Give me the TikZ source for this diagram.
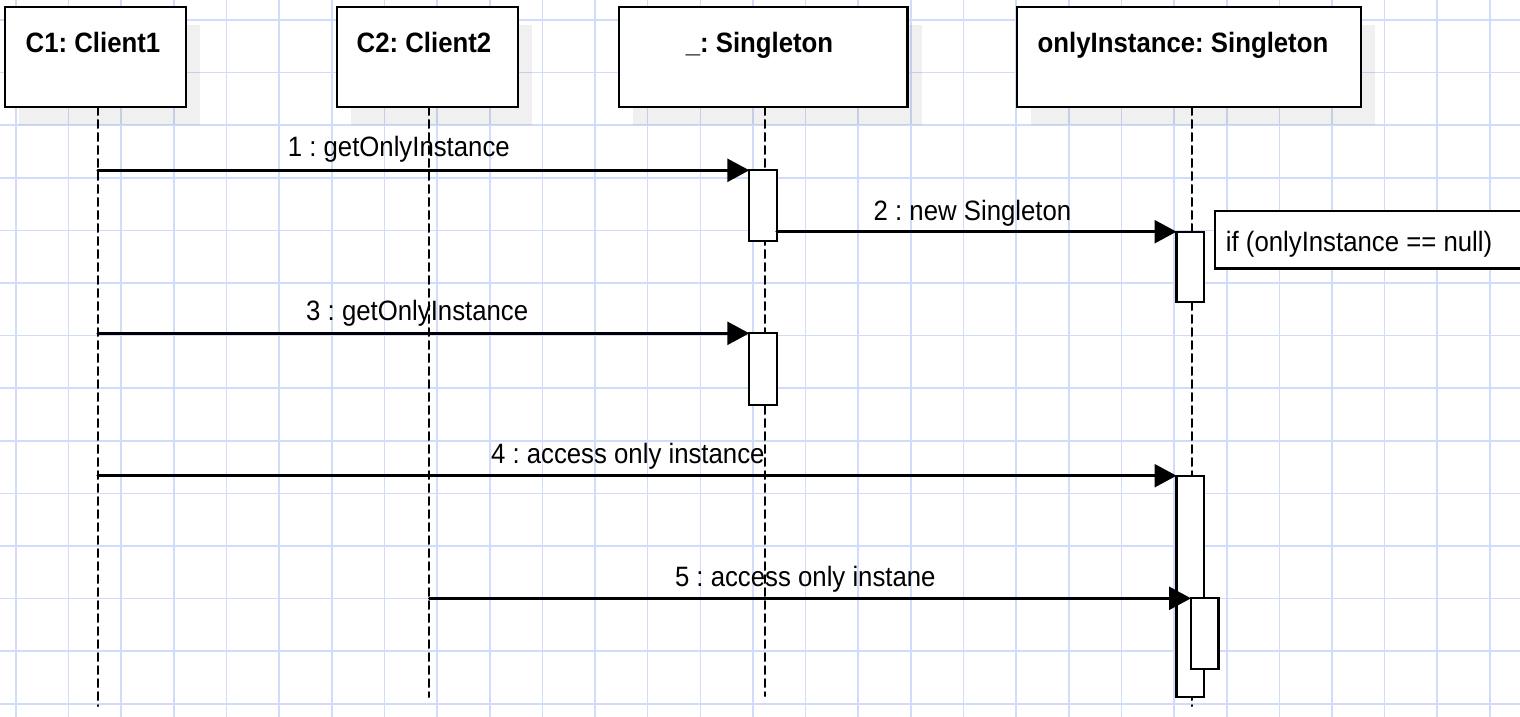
\documentclass[tikz,border=0pt]{standalone}
\usepackage{fontspec}
\setmainfont{Liberation Sans}[FakeStretch=0.92]
\frenchspacing
\usetikzlibrary{arrows.meta,calc,shadows}
\usepackage{tkz-euclide}
\definecolor{GridClr}{rgb}{0.82,0.86,0.98}
\definecolor{LineClr}{rgb}{0,0,0}

\tikzset{
  objbox/.style={draw=LineClr,fill=white,line width=1.2pt,inner sep=0pt,outer sep=0pt,
    minimum height=50pt,anchor=north west,
    drop shadow={shadow xshift=7pt,shadow yshift=-9pt,fill=black,opacity=.06}},
  objname/.style={font=\fontsize{14}{17}\selectfont\bfseries,anchor=base,inner sep=0pt},
  actbox/.style={draw=LineClr,fill=white,line width=1.1pt,inner sep=0pt,outer sep=0pt,
    minimum width=13.7pt,anchor=north west},
  notebox/.style={draw=LineClr,fill=white,line width=1.2pt,inner sep=0pt,outer sep=0pt,
    minimum width=170pt,minimum height=28.8pt,anchor=north west},
  msglbl/.style={font=\fontsize{14}{17}\selectfont,anchor=base,inner sep=0pt},
  lifeln/.style={line width=1pt,dash pattern=on 4pt off 2.5pt},
  msgln/.style={line width=1.3pt,-{Triangle[length=11pt,width=11.5pt]}}
}

\begin{document}
\begin{tikzpicture}[x=0.5pt,y=-0.5pt]
\tkzSetUpLine[line width=1pt,color=black]
\useasboundingbox (0,0) rectangle (1520,717);

\foreach \k in {0,...,28} \draw[GridClr,line width=.8pt] ({16+52.64*\k},0) -- ({16+52.64*\k},717);
\foreach \k in {0,...,13} \draw[GridClr,line width=.8pt] (0,{20+52.6*\k}) -- (1520,{20+52.6*\k});

\node[objbox,minimum width=90.5pt] (c1) at (5,7) {};
\node[objbox,minimum width=90.5pt] (c2) at (337,7) {};
\node[objbox,minimum width=144.3pt] (sg) at (619,7) {};
\node[objbox,minimum width=172pt] (oi) at (1017,7) {};

\node[objname] (c1n) at (93,53) {C1: Client1};
\node[objname] (c2n) at (424,53) {C2: Client2};
\node[objname] (sgn) at (759.5,53) {\_: Singleton};
\node[objname] (oin) at (1183,53) {onlyInstance: Singleton};

\tkzDefPoints{97.7/107/T1,97.7/706/B1,429.3/107/T2,429.3/697/B2,765/107/T3,765/696/B3,1191.5/107/T4,1191.5/706/B4}
\tkzDrawSegments[lifeln](T1,B1 T2,B2 T3,B3 T4,B4)

\tkzDefPoints{97.7/170.3/S1,749.3/170.3/E1,776.7/231.7/S2,1176.5/231.7/E2,97.7/333.3/S3,749.3/333.3/E3}
\tkzDefPoints{97.7/475.7/S4,1176.5/475.7/E4,429.3/598.3/S5,1191/598.3/E5}

\node[actbox,minimum height=35.35pt] (a1) at (E1) {};
\node[actbox,minimum height=35.3pt] (a2) at (E2) {};
\node[actbox,minimum height=35.85pt] (a3) at (E3) {};
\node[actbox,minimum height=110.65pt] (a4) at (E4) {};
\node[actbox,minimum height=35.35pt] (a5) at (E5) {};

\node[notebox] (nt) at (1215,210.7) {};
\node[msglbl,anchor=base west] (ntx) at (1225.5,251.7) {if (onlyInstance == null)};

\tkzDrawSegments[msgln](S1,E1 S2,E2 S3,E3 S4,E4 S5,E5)

\node[msglbl] (m1) at (398.8,156.7) {1 : getOnlyInstance};
\node[msglbl] (m2) at (972.5,220) {2 : new Singleton};
\node[msglbl] (m3) at (417.2,320.7) {3 : getOnlyInstance};
\node[msglbl] (m4) at (627.8,463.3) {4 : access only instance};
\node[msglbl] (m5) at (805.3,586) {5 : access only instane};

\end{tikzpicture}
\end{document}
